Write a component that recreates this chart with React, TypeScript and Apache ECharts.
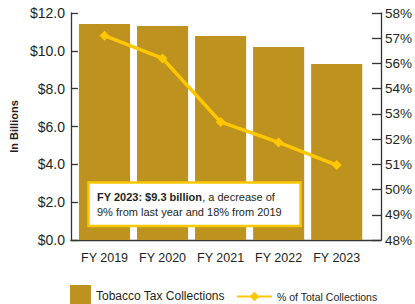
import React, { useEffect, useRef } from "react";
import * as echarts from "echarts";

const categories = ["FY 2019", "FY 2020", "FY 2021", "FY 2022", "FY 2023"];
const taxCollections = [11.42, 11.31, 10.78, 10.2, 9.3];
const pctOfTotal = [57.0, 56.0, 53.2, 52.3, 51.3];
const rightTickLabels = ["48%", "49%", "50%", "51%", "52%", "53%", "54%", "56%", "57%", "58%"];

const FONT = "'Liberation Sans', Arial, sans-serif";
const BAR = "#BE921E";
const LINE = "#FFC700";
const INK = "#231f20";

export default function App() {
  const ref = useRef<HTMLDivElement>(null);
  useEffect(() => {
    if (!ref.current) return;
    const chart = echarts.init(ref.current, null, { renderer: "svg" });
    const axisLine = { show: true, lineStyle: { color: "#333", width: 1.3 } };
    chart.setOption({
      animation: false,
      textStyle: { fontFamily: FONT },
      grid: [
        { left: 63, right: 34, top: 13, bottom: 64 },
        { left: 75.5, right: 49.3, top: 13, bottom: 64 },
      ],
      legend: [
        {
          data: ["Tobacco Tax Collections"],
          left: 65,
          top: 280,
          icon: "rect",
          itemWidth: 21,
          itemHeight: 21,
          textStyle: { fontSize: 12, color: INK, fontFamily: FONT },
        },
        {
          data: ["% of Total Collections"],
          left: 231,
          top: 286,
          itemWidth: 35,
          itemHeight: 12,
          textStyle: { fontSize: 10.5, color: INK, fontFamily: FONT },
        },
      ],
      xAxis: [
        {
          type: "value",
          gridIndex: 0,
          min: 0,
          max: 1,
          axisLine,
          axisTick: { show: false },
          axisLabel: { show: false },
          splitLine: { show: false },
        },
        {
          type: "category",
          gridIndex: 1,
          data: categories,
          axisLine: { show: false },
          axisTick: { show: false },
          axisLabel: { fontSize: 12.5, color: INK, margin: 11, interval: 0, fontFamily: FONT },
        },
      ],
      yAxis: [
        {
          type: "value",
          gridIndex: 0,
          min: 0,
          max: 12,
          interval: 2,
          position: "left",
          axisLine,
          axisTick: { show: true, inside: true, length: 7, lineStyle: { color: "#333", width: 1.3 } },
          axisLabel: { fontSize: 14, color: INK, margin: 6, fontFamily: FONT, formatter: (v: number) => "$" + v.toFixed(1) },
          splitLine: { show: false },
          name: "In Billions",
          nameLocation: "middle",
          nameGap: 37,
          nameTextStyle: { fontSize: 11, fontWeight: "bold", color: INK, fontFamily: FONT },
        },
        {
          type: "value",
          gridIndex: 0,
          min: 0,
          max: 9,
          interval: 1,
          position: "right",
          axisLine,
          axisTick: { show: true, inside: true, length: 9, lineStyle: { color: "#333", width: 1.3 } },
          axisLabel: { fontSize: 13.5, color: INK, margin: 4, fontFamily: FONT, formatter: (v: number) => rightTickLabels[Math.round(v)] ?? "" },
          splitLine: { show: false },
        },
        { type: "value", gridIndex: 1, min: 0, max: 12, show: false, splitLine: { show: false } },
        { type: "value", gridIndex: 1, min: 48, max: 58, show: false, splitLine: { show: false } },
      ],
      series: [
        {
          name: "Tobacco Tax Collections",
          type: "bar",
          xAxisIndex: 1,
          yAxisIndex: 2,
          data: taxCollections,
          barCategoryGap: "12%",
          itemStyle: { color: BAR },
        },
        {
          name: "% of Total Collections",
          type: "line",
          xAxisIndex: 1,
          yAxisIndex: 3,
          data: pctOfTotal,
          symbol: "diamond",
          symbolSize: 10,
          lineStyle: { color: LINE, width: 3.5 },
          itemStyle: { color: LINE },
          z: 5,
        },
      ],
      graphic: [
        {
          type: "group",
          z: 100,
          children: [
            {
              type: "rect",
              shape: { x: 88.5, y: 182.5, width: 212, height: 43.5 },
              style: { fill: "#fff", stroke: "#F7C800", lineWidth: 2.5 },
              z: 100,
            },
            {
              type: "text",
              x: 97,
              y: 189,
              z: 101,
              style: {
                text: "{b|FY 2023: $9.3 billion}{n|, a decrease of}\n{n|9% from last year and 18% from 2019}",
                fill: INK,
                rich: {
                  b: { fontSize: 11, fontWeight: "bold", fontFamily: FONT, lineHeight: 15.5, fill: INK },
                  n: { fontSize: 11, fontFamily: FONT, lineHeight: 15.5, fill: INK },
                },
              },
            },
          ],
        },
      ],
    });
    return () => chart.dispose();
  }, []);
  return <div ref={ref} style={{ position: "absolute", left: 0, top: 0, width: 415, height: 304 }} />;
}
